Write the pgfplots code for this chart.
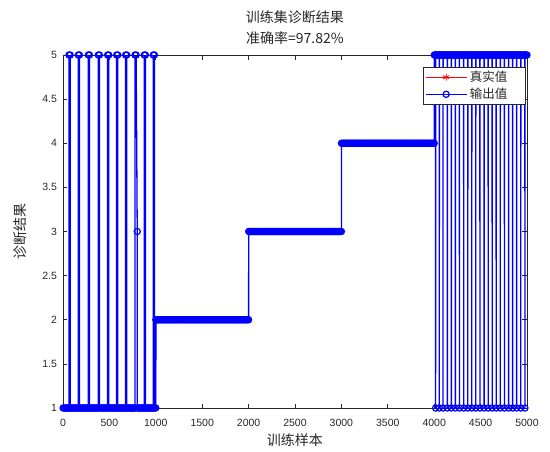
\documentclass[border=0pt]{standalone}
\usepackage{fontspec}
\setmainfont{Liberation Sans}
\newfontfamily\cjk{Noto Sans CJK SC}
\usepackage{pgfplots}
\pgfplotsset{compat=1.18}
\definecolor{axgray}{RGB}{38,38,38}
\definecolor{mblue}{RGB}{0,0,255}
\definecolor{mred}{RGB}{255,0,0}
\begin{document}
\begin{tikzpicture}
\path[use as bounding box] (0,0) rectangle (550pt,451pt);
\begin{axis}[
  at={(63pt,43pt)}, anchor=south west,
  scale only axis, width=464pt, height=353pt,
  xmin=0, xmax=5000, ymin=1, ymax=5,
  xtick={0,500,...,5000}, ytick={1,1.5,...,5},
  scaled x ticks=false,
  /pgf/number format/1000 sep={},
  /pgf/number format/assume math mode=true,
  tick label style={font=\fontsize{10.5}{12}\selectfont, text=axgray},
  xticklabel style={yshift=-7.5pt},
  yticklabel style={xshift=-2.5pt},
  axis line style={axgray, line width=0.6pt},
  major tick style={axgray, line width=0.6pt},
  major tick length=4.5pt,
  tick align=inside,
  title={训练集诊断结果\\准确率=97.82\%},
  title style={font=\cjk\fontsize{14}{21}\selectfont, align=center, text=axgray, at={(axis description cs:0.5,1)}, anchor=south, yshift=1pt},
  xlabel={训练样本},
  xlabel style={font=\cjk\fontsize{14}{16}\selectfont, text=axgray, at={(axis description cs:0.5,0)}, anchor=north, yshift=-22.5pt},
  ylabel={诊断结果},
  ylabel style={font=\cjk\fontsize{14}{16}\selectfont, text=axgray, at={(axis description cs:-0.0927,0.5)}, anchor=center},
  legend style={at={(axis description cs:0.9957,0.966)}, anchor=north east, font=\cjk\fontsize{12.5}{14}\selectfont, draw=axgray, fill=white, inner xsep=2pt, inner ysep=2pt, row sep=1pt, text=axgray},
  legend cell align=left,
  legend image code/.code={\draw[mark repeat=2,mark phase=2,#1] plot coordinates {(0pt,0pt) (20pt,0pt) (41pt,0pt)};},
]
\addplot[mred, line width=0.4pt, forget plot] coordinates {(1,1)(1000,1)(1001,2)(2000,2)(2001,3)(3000,3)(3001,4)(4000,4)(4001,5)(5000,5)};
\addlegendimage{mred, line width=0.8pt, mark=asterisk, mark size=3.5pt}
\addlegendentry{\makebox[51pt][l]{真实值}}
\addplot[mblue, line width=1.3pt, mark=o, mark size=3.1pt, mark options={line width=1.2pt}] coordinates {
(1,1)(10,1)(20,1)(30,1)(40,1)(50,1)(60,1)(64,1)(65,5)(77,5)(78,1)(90,1)(100,1)(110,1)(120,1)(130,1)(140,1)(150,1)(160,1)(164,1)(165,5)(177,5)(178,1)(190,1)(200,1)(210,1)(220,1)(230,1)(240,1)(250,1)(260,1)(270,1)(272,1)(273,5)(285,5)(286,1)(300,1)(310,1)(320,1)(330,1)(340,1)(350,1)(360,1)(370,1)(380,1)(381,5)(393,5)(394,1)(410,1)(420,1)(430,1)(440,1)(450,1)(460,1)(470,1)(480,1)(481,5)(493,5)(494,1)(510,1)(520,1)(530,1)(540,1)(550,1)(560,1)(570,1)(577,1)(578,5)(590,5)(591,1)(600,1)(610,1)(620,1)(630,1)(640,1)(650,1)(660,1)(670,1)(674,1)(675,5)(687,5)(688,1)(700,1)(710,1)(720,1)(730,1)(740,1)(750,1)(760,1)(770,1)(775,1)(776,5)(788,5)(800,3)(801,1)(810,1)(820,1)(830,1)(840,1)(850,1)(860,1)(870,1)(875,1)(876,5)(888,5)(889,1)(900,1)(910,1)(920,1)(930,1)(940,1)(950,1)(960,1)(970,1)(972,1)(973,5)(985,5)(986,1)(1000,1)
(1001,2)(1010,2)(1020,2)(1030,2)(1040,2)(1050,2)(1060,2)(1070,2)(1080,2)(1090,2)(1100,2)(1110,2)(1120,2)(1130,2)(1140,2)(1150,2)(1160,2)(1170,2)(1180,2)(1190,2)(1200,2)(1210,2)(1220,2)(1230,2)(1240,2)(1250,2)(1260,2)(1270,2)(1280,2)(1290,2)(1300,2)(1310,2)(1320,2)(1330,2)(1340,2)(1350,2)(1360,2)(1370,2)(1380,2)(1390,2)(1400,2)(1410,2)(1420,2)(1430,2)(1440,2)(1450,2)(1460,2)(1470,2)(1480,2)(1490,2)(1500,2)(1510,2)(1520,2)(1530,2)(1540,2)(1550,2)(1560,2)(1570,2)(1580,2)(1590,2)(1600,2)(1610,2)(1620,2)(1630,2)(1640,2)(1650,2)(1660,2)(1670,2)(1680,2)(1690,2)(1700,2)(1710,2)(1720,2)(1730,2)(1740,2)(1750,2)(1760,2)(1770,2)(1780,2)(1790,2)(1800,2)(1810,2)(1820,2)(1830,2)(1840,2)(1850,2)(1860,2)(1870,2)(1880,2)(1890,2)(1900,2)(1910,2)(1920,2)(1930,2)(1940,2)(1950,2)(1960,2)(1970,2)(1980,2)(1990,2)(2000,2)
(2001,3)(2010,3)(2020,3)(2030,3)(2040,3)(2050,3)(2060,3)(2070,3)(2080,3)(2090,3)(2100,3)(2110,3)(2120,3)(2130,3)(2140,3)(2150,3)(2160,3)(2170,3)(2180,3)(2190,3)(2200,3)(2210,3)(2220,3)(2230,3)(2240,3)(2250,3)(2260,3)(2270,3)(2280,3)(2290,3)(2300,3)(2310,3)(2320,3)(2330,3)(2340,3)(2350,3)(2360,3)(2370,3)(2380,3)(2390,3)(2400,3)(2410,3)(2420,3)(2430,3)(2440,3)(2450,3)(2460,3)(2470,3)(2480,3)(2490,3)(2500,3)(2510,3)(2520,3)(2530,3)(2540,3)(2550,3)(2560,3)(2570,3)(2580,3)(2590,3)(2600,3)(2610,3)(2620,3)(2630,3)(2640,3)(2650,3)(2660,3)(2670,3)(2680,3)(2690,3)(2700,3)(2710,3)(2720,3)(2730,3)(2740,3)(2750,3)(2760,3)(2770,3)(2780,3)(2790,3)(2800,3)(2810,3)(2820,3)(2830,3)(2840,3)(2850,3)(2860,3)(2870,3)(2880,3)(2890,3)(2900,3)(2910,3)(2920,3)(2930,3)(2940,3)(2950,3)(2960,3)(2970,3)(2980,3)(2990,3)(3000,3)
(3001,4)(3010,4)(3020,4)(3030,4)(3040,4)(3050,4)(3060,4)(3070,4)(3080,4)(3090,4)(3100,4)(3110,4)(3120,4)(3130,4)(3140,4)(3150,4)(3160,4)(3170,4)(3180,4)(3190,4)(3200,4)(3210,4)(3220,4)(3230,4)(3240,4)(3250,4)(3260,4)(3270,4)(3280,4)(3290,4)(3300,4)(3310,4)(3320,4)(3330,4)(3340,4)(3350,4)(3360,4)(3370,4)(3380,4)(3390,4)(3400,4)(3410,4)(3420,4)(3430,4)(3440,4)(3450,4)(3460,4)(3470,4)(3480,4)(3490,4)(3500,4)(3510,4)(3520,4)(3530,4)(3540,4)(3550,4)(3560,4)(3570,4)(3580,4)(3590,4)(3600,4)(3610,4)(3620,4)(3630,4)(3640,4)(3650,4)(3660,4)(3670,4)(3680,4)(3690,4)(3700,4)(3710,4)(3720,4)(3730,4)(3740,4)(3750,4)(3760,4)(3770,4)(3780,4)(3790,4)(3800,4)(3810,4)(3820,4)(3830,4)(3840,4)(3850,4)(3860,4)(3870,4)(3880,4)(3890,4)(3900,4)(3910,4)(3920,4)(3930,4)(3940,4)(3950,4)(3960,4)(3970,4)(3980,4)(3990,4)(4000,4)
(4001,5)(4010,5)(4014,5)(4015,1)(4016,5)(4020,5)(4030,5)(4040,5)(4050,5)(4054,5)(4055,1)(4056,5)(4060,5)(4070,5)(4080,5)(4090,5)(4094,5)(4095,1)(4096,5)(4100,5)(4110,5)(4120,5)(4130,5)(4140,5)(4141,5)(4142,1)(4143,5)(4150,5)(4160,5)(4170,5)(4180,5)(4184,5)(4185,1)(4186,5)(4190,5)(4200,5)(4210,5)(4220,5)(4227,5)(4228,1)(4229,5)(4230,5)(4240,5)(4250,5)(4260,5)(4270,5)(4271,5)(4272,1)(4273,5)(4280,5)(4290,5)(4300,5)(4310,5)(4317,5)(4318,1)(4319,5)(4320,5)(4330,5)(4340,5)(4350,5)(4360,5)(4361,5)(4362,1)(4363,5)(4370,5)(4380,5)(4390,5)(4400,5)(4404,5)(4405,1)(4406,5)(4410,5)(4420,5)(4430,5)(4440,5)(4447,5)(4448,1)(4449,5)(4450,5)(4460,5)(4470,5)(4480,5)(4490,5)(4492,5)(4493,1)(4494,5)(4500,5)(4510,5)(4520,5)(4530,5)(4537,5)(4538,1)(4539,5)(4540,5)(4550,5)(4560,5)(4570,5)(4580,5)(4581,5)(4582,1)(4583,5)(4590,5)(4600,5)(4610,5)(4620,5)(4624,5)(4625,1)(4626,5)(4630,5)(4640,5)(4650,5)(4660,5)(4667,5)(4668,1)(4669,5)(4670,5)(4680,5)(4690,5)(4700,5)(4710,5)(4711,5)(4712,1)(4713,5)(4720,5)(4730,5)(4740,5)(4750,5)(4756,5)(4757,1)(4758,5)(4760,5)(4770,5)(4780,5)(4790,5)(4800,5)(4801,5)(4802,1)(4803,5)(4810,5)(4820,5)(4830,5)(4840,5)(4844,5)(4845,1)(4846,5)(4850,5)(4860,5)(4870,5)(4880,5)(4887,5)(4888,1)(4889,5)(4890,5)(4900,5)(4910,5)(4920,5)(4930,5)(4932,5)(4933,1)(4934,5)(4940,5)(4950,5)(4960,5)(4970,5)(4977,5)(4978,1)(4979,5)(4980,5)(4990,5)(5000,5)
};
\addlegendentry{\makebox[51pt][l]{输出值}}
\end{axis}
\end{tikzpicture}
\end{document}
